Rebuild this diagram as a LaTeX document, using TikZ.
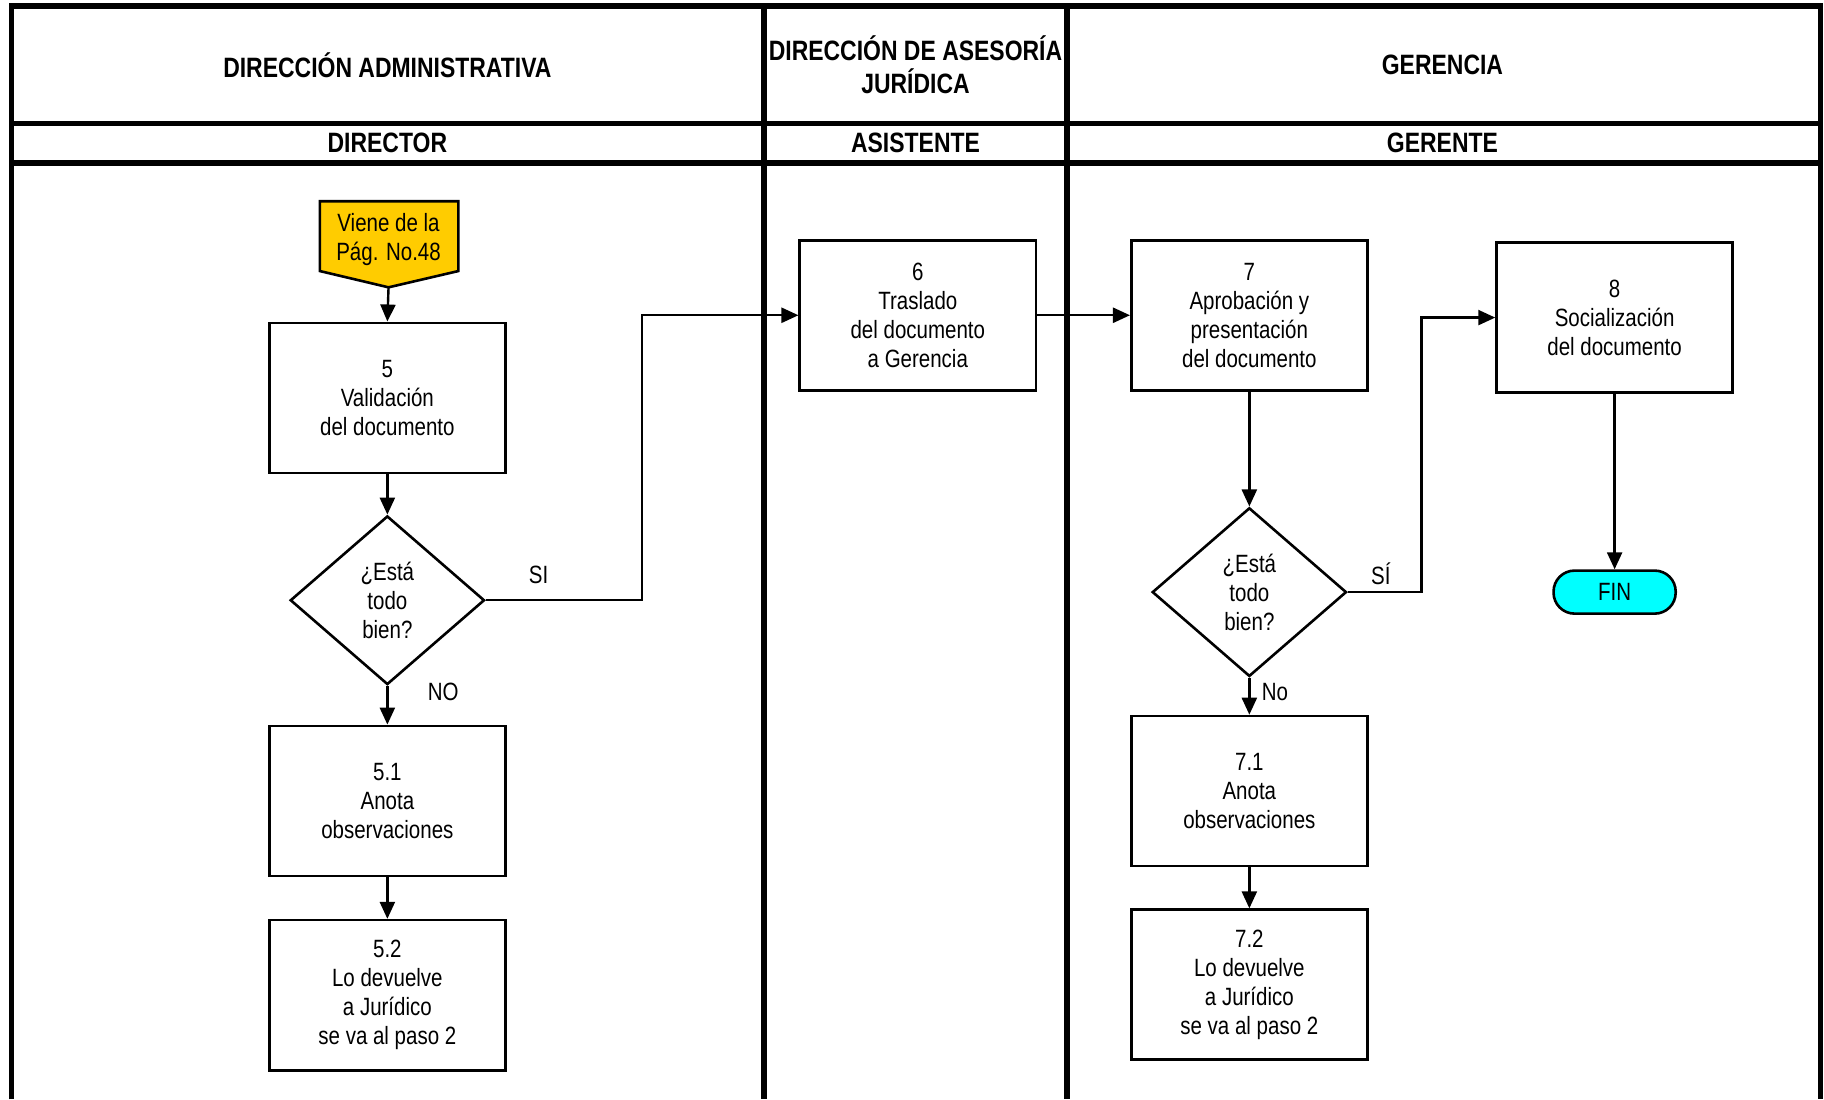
\documentclass[tikz,border=0pt]{standalone}
\usepackage{fontspec}
\setmainfont{Liberation Sans}[FakeStretch=0.82]
\usetikzlibrary{shapes.geometric,arrows.meta}
\newcommand\bodyf{\fontsize{12.5pt}{14.5pt}\selectfont}
\newcommand\headf{\fontsize{14pt}{16.5pt}\selectfont\bfseries}
\definecolor{finfill}{RGB}{0,255,255}
\definecolor{vienefill}{RGB}{255,204,0}
\begin{document}
\begin{tikzpicture}[x=0.58165pt,y=-0.58165pt,
  lane/.style={line width=2.8pt,line join=miter},
  proc/.style={draw,line width=1.3pt,inner sep=0pt,align=center,
    minimum width=203*0.58165pt,minimum height=129*0.58165pt,font=\bodyf,
    execute at begin node={\rule{0pt}{12pt}}},
  decis/.style={draw,diamond,line width=1.3pt,inner sep=0pt,align=center,
    minimum width=167*0.58165pt,minimum height=145*0.58165pt,aspect=1.15,font=\bodyf},
  conn/.style={line width=1.2pt,-{Triangle[length=8.5pt,width=7.5pt]}},
  lbl/.style={font=\bodyf,inner sep=0pt},
  head/.style={font=\headf,align=center,inner sep=0pt}]
\useasboundingbox (0,0) rectangle (1568,945);
\fill[white] (0,0) rectangle (1568,945);
% lanes
\draw[lane] (10,945) -- (10,5) -- (1565,5) -- (1565,945);
\draw[lane] (10,106) -- (1565,106);
\draw[lane] (10,140) -- (1565,140);
\draw[lane] (657,5) -- (657,945);
\draw[lane] (917,5) -- (917,945);
\node[head] (h1) at (333,56) {DIRECCIÓN ADMINISTRATIVA};
\node[head] (h2) at (787,56) {DIRECCIÓN DE ASESORÍA\\JURÍDICA};
\node[head] (h3) at (1240,56) {GERENCIA};
\node[head] (r1) at (333,123) {DIRECTOR};
\node[head] (r2) at (787,123) {ASISTENTE};
\node[head] (r3) at (1240,123) {GERENTE};
% off-page connector
\filldraw[fill=vienefill,line width=1.3pt,line join=miter]
  (275,173) -- (394,173) -- (394,233) -- (334,247) -- (275,233) -- cycle;
\coordinate (vp) at (334,247);
\node[lbl,align=center] (viene) at (334,206) {Viene de la\\Pág. No.48};
% boxes
\node[proc] (b5) at (333,342) {5\\Validación\\del documento};
\node[decis] (d1) at (333,516) {¿Está\\todo\\bien?};
\node[proc] (b51) at (333,688.5) {5.1\\Anota\\observaciones};
\node[proc] (b52) at (333,855.5) {5.2\\Lo devuelve\\a Jurídico\\se va al paso 2};
\node[proc] (b6) at (789,271) {6\\Traslado\\del documento\\a Gerencia};
\node[proc] (b7) at (1074,271) {7\\Aprobación y\\presentación\\del documento};
\node[decis] (d2) at (1074,509) {¿Está\\todo\\bien?};
\node[proc] (b71) at (1074,680) {7.1\\Anota\\observaciones};
\node[proc] (b72) at (1074,846.5) {7.2\\Lo devuelve\\a Jurídico\\se va al paso 2};
\node[proc] (b8) at (1388,273) {8\\Socialización\\del documento};
\node[draw,line width=1.3pt,fill=finfill,rounded corners=10.5pt,minimum width=105*0.58165pt,
  minimum height=37*0.58165pt,inner sep=0pt,font=\bodyf] (fin) at (1388,509) {FIN};
% labels
\node[lbl] (lsi) at (463,494) {SI};
\node[lbl] (lno) at (381,595) {NO};
\node[lbl] (lsi2) at (1187,493) {SÍ};
\node[lbl] (lno2) at (1096,595) {No};
% connectors
\coordinate (k1) at (552,0);
\coordinate (k2) at (1222,0);
\draw[conn] (vp) -- (b5.north);
\draw[conn] (b5.south) -- (d1.north);
\draw[conn] (d1.south) -- (b51.north);
\draw[conn] (b51.south) -- (b52.north);
\draw[conn] (d1.east) -- (d1.east -| k1) |- (b6.west);
\draw[conn] (b6.east) -- (b7.west);
\draw[conn] (b7.south) -- (d2.north);
\draw[conn] (d2.south) -- (b71.north);
\draw[conn] (b71.south) -- (b72.north);
\draw[conn] (d2.east) -- (d2.east -| k2) |- (b8.west);
\draw[conn] (b8.south) -- (fin.north);
\end{tikzpicture}
\end{document}
